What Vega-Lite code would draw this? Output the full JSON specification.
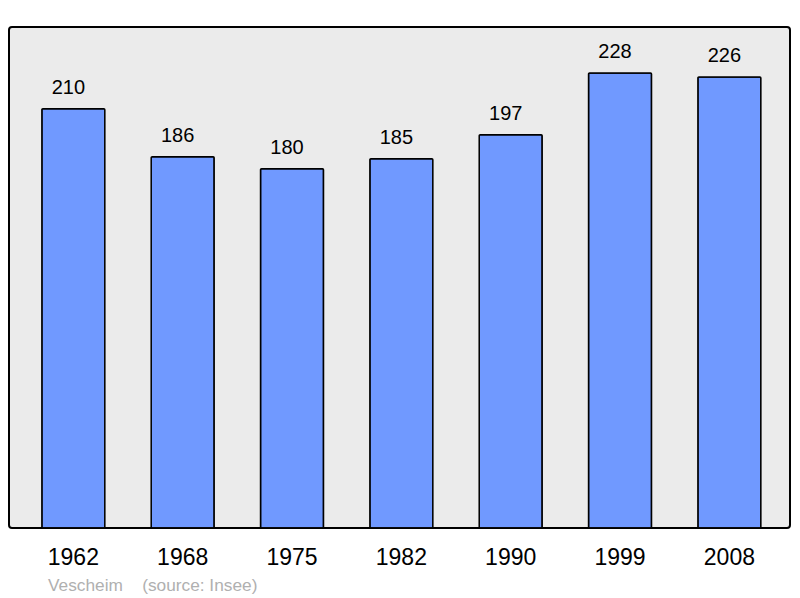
{
  "$schema": "https://vega.github.io/schema/vega-lite/v6.json",
  "autosize": "none",
  "width": 781,
  "height": 501,
  "padding": {"left": 9, "top": 27, "right": 10, "bottom": 70},
  "background": "white",
  "config": {
    "view": {"fill": "#ebebeb", "stroke": "#000000", "strokeWidth": 2, "cornerRadius": 3},
    "font": "Liberation Sans"
  },
  "title": {
    "text": "Vescheim\u00a0\u00a0\u00a0\u00a0(source: Insee)",
    "orient": "bottom",
    "anchor": "start",
    "dx": 39,
    "offset": 8,
    "fontSize": 17.3,
    "fontWeight": "normal",
    "color": "#b0b0b0",
    "font": "Liberation Sans"
  },
  "data": {
    "values": [
      {"year": "1962", "pop": 210},
      {"year": "1968", "pop": 186},
      {"year": "1975", "pop": 180},
      {"year": "1982", "pop": 185},
      {"year": "1990", "pop": 197},
      {"year": "1999", "pop": 228},
      {"year": "2008", "pop": 226}
    ]
  },
  "encoding": {
    "x": {
      "field": "year",
      "type": "ordinal",
      "sort": null,
      "scale": {"paddingInner": 0.424, "paddingOuter": 0.2835, "align": 0.53},
      "axis": {
        "title": null,
        "labelAngle": 0,
        "ticks": false,
        "domain": false,
        "labelFontSize": 23,
        "labelColor": "#000000",
        "labelPadding": 18,
        "labelFont": "Liberation Sans"
      }
    },
    "y": {
      "field": "pop",
      "type": "quantitative",
      "scale": {"domain": [0, 251], "nice": false},
      "axis": null
    }
  },
  "layer": [
    {
      "mark": {"type": "bar", "color": "#7099ff", "stroke": "#000000", "strokeWidth": 1.5, "cornerRadius": 1}
    },
    {
      "mark": {"type": "text", "baseline": "alphabetic", "dx": -5, "dy": -15, "fontSize": 20, "color": "#000000", "font": "Liberation Sans"},
      "encoding": {"text": {"field": "pop", "type": "quantitative"}}
    }
  ]
}
